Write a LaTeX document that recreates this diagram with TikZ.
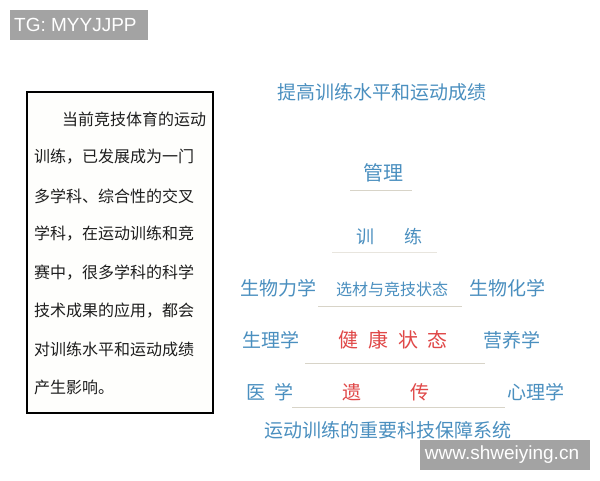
\documentclass[tikz,border=0pt]{standalone}
\usepackage{fontspec}
\newfontfamily\cjk{Noto Sans CJK SC}
\newfontfamily\latinsans{Liberation Sans}
\definecolor{tblue}{HTML}{4A8FBF}
\definecolor{tred}{HTML}{E04848}
\definecolor{tdark}{HTML}{1E1E1E}
\definecolor{uline}{HTML}{D8D4C8}
\definecolor{wmgray}{HTML}{A3A3A3}
\tikzset{
  boxtxt/.style={anchor=west,inner sep=0pt,text=tdark,font=\cjk\fontsize{16}{16}\selectfont},
  bluetxt/.style={inner sep=0pt,text=tblue,font=\cjk\fontsize{19}{19}\selectfont},
  redtxt/.style={inner sep=0pt,text=tred,font=\cjk\fontsize{20}{20}\selectfont},
  wmbox/.style={fill=wmgray,draw=none},
  wmtxt/.style={inner sep=0pt,text=white,font=\latinsans\fontsize{19}{19}\selectfont},
  ul/.style={draw=uline,line width=1pt},
}
\begin{document}
\begin{tikzpicture}[x=1pt,y=-1pt]
\useasboundingbox[fill=white] (0,0) rectangle (600,480);
% watermark TG
\fill[wmbox] (10,10) rectangle (148,40);
\node[wmtxt,anchor=west] (tg) at (14,25) {TG: MYYJJPP};
% left box
\draw[line width=1.5pt,fill={rgb,255:red,254;green,254;blue,252}] (27,92) rectangle (213,413);
\node[boxtxt] (l1) at (62,119) {当前竞技体育的运动};
\node[boxtxt] (l2) at (34,157) {训练，已发展成为一门};
\node[boxtxt] (l3) at (34,196) {多学科、综合性的交叉};
\node[boxtxt] (l4) at (34,234) {学科，在运动训练和竞};
\node[boxtxt] (l5) at (34,273) {赛中，很多学科的科学};
\node[boxtxt] (l6) at (34,311) {技术成果的应用，都会};
\node[boxtxt] (l7) at (34,349) {对训练水平和运动成绩};
\node[boxtxt] (l8) at (34,387) {产生影响。};
% right diagram
\node[bluetxt] (title) at (382,92) {提高训练水平和运动成绩};
\node[bluetxt,font=\cjk\fontsize{20}{20}\selectfont] (guanli) at (383,173) {管理};
\coordinate (u1a) at (350,190); \coordinate (u1b) at (412,190);
\draw[ul] (u1a) -- (u1b);
\node[bluetxt,font=\cjk\fontsize{18}{18}\selectfont] (xun) at (365,237) {训};
\node[bluetxt,font=\cjk\fontsize{18}{18}\selectfont] (lian) at (413,237) {练};
\coordinate (u2a) at (332,252); \coordinate (u2b) at (437,252);
\draw[ul,draw=uline!60] (u2a) -- (u2b);
\node[bluetxt] (swlx) at (278,288) {生物力学};
\node[bluetxt,font=\cjk\fontsize{16}{16}\selectfont] (xcjj) at (392,289) {选材与竞技状态};
\node[bluetxt] (swhx) at (507,288) {生物化学};
\coordinate (u3a) at (318,306); \coordinate (u3b) at (462,306);
\draw[ul] (u3a) -- (u3b);
\node[bluetxt] (slx) at (271,340) {生理学};
\node[redtxt] (jian) at (348,340) {健};
\node[redtxt] (kang) at (378,340) {康};
\node[redtxt] (zhuang) at (408,340) {状};
\node[redtxt] (tai) at (437,340) {态};
\node[bluetxt] (yyx) at (512,340) {营养学};
\coordinate (u4a) at (305,363); \coordinate (u4b) at (485,363);
\draw[ul] (u4a) -- (u4b);
\node[bluetxt] (yi) at (256,392) {医};
\node[bluetxt] (xue) at (284,392) {学};
\node[redtxt,font=\cjk\fontsize{19}{19}\selectfont] (yi2) at (352,392) {遗};
\node[redtxt,font=\cjk\fontsize{19}{19}\selectfont] (chuan) at (420,392) {传};
\node[bluetxt] (xlx) at (536,392) {心理学};
\coordinate (u5a) at (292,407); \coordinate (u5b) at (505,407);
\draw[ul] (u5a) -- (u5b);
\node[bluetxt] (bottom) at (388,430) {运动训练的重要科技保障系统};
% watermark site
\fill[wmbox] (420,440) rectangle (590,470);
\node[wmtxt] (site) at (502,455) {www.shweiying.cn};
\end{tikzpicture}
\end{document}
